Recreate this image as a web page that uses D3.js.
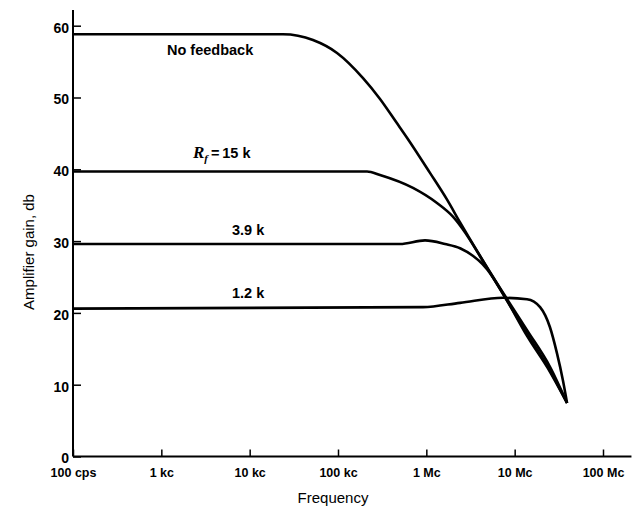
<!DOCTYPE html>
<html>
<head>
<meta charset="utf-8">
<script src="https://cdn.jsdelivr.net/npm/d3@7"></script>
<style>
body { margin: 0; background: #fff; }
svg { display: block; }
text { font-family: "Liberation Sans", Arial, sans-serif; fill: #000; }
</style>
</head>
<body>
<svg id="chart" width="634" height="511"></svg>
<script>
// gain curves (freq in cps, gain in db)
var noFeedback = [
    [1e2, 58.8], [2.38e4, 58.8], [5.21e4, 58.0], [9.75e4, 56.2], [1.92e5, 52.7],
    [2.99e5, 49.8], [4.66e5, 46.4], [6.04e5, 44.4], [1.10e6, 39.5], [1.71e6, 35.8],
    [2.41e6, 32.6], [5.69e6, 25.0], [1.38e7, 17.6], [2.51e7, 12.5], [3.92e7, 7.45]
];
var rf15k = [
    [1e2, 39.7], [2.13e5, 39.7], [2.99e5, 39.2], [7.06e5, 37.4], [1.32e6, 35.3],
    [2.00e6, 33.4], [2.54e6, 31.8], [4.86e6, 26.3], [1.38e7, 17.1], [2.51e7, 12.0],
    [3.92e7, 7.45]
];
var rf39k = [
    [1e2, 29.6], [5.04e5, 29.6], [9.66e5, 30.1], [1.63e6, 29.6], [2.41e6, 29.0],
    [4.86e6, 26.1], [7.78e6, 22.2], [1.38e7, 16.8], [2.51e7, 11.8], [3.92e7, 7.45]
];
var rf12k = [
    [1e2, 20.6], [9.17e5, 20.8], [2.41e6, 21.4], [7.38e6, 22.1], [1.38e7, 21.9],
    [1.94e7, 20.8], [2.51e7, 18.0], [3.01e7, 14.4], [3.52e7, 10.6], [3.92e7, 7.45]
];

var xTicks = [1e2, 1e3, 1e4, 1e5, 1e6, 1e7, 1e8];
var xTickLabels = ["100 cps", "1 kc", "10 kc", "100 kc", "1 Mc", "10 Mc", "100 Mc"];
var yTicks = [0, 10, 20, 30, 40, 50, 60];

var svg = d3.select("#chart");

var x = d3.scaleLog().domain([1e2, 1e8]).range([73, 603]);
var y = d3.scaleLinear().domain([0, 60]).range([456.5, 25.7]);

// y axis
var yAxis = d3.axisLeft(y)
    .tickValues(yTicks)
    .tickSize(-8)
    .tickPadding(4);
var gy = svg.append("g").attr("transform", "translate(73,0)").call(yAxis);
gy.select(".domain").remove();
gy.selectAll("line").attr("stroke", "#000").attr("stroke-width", 1.5);
gy.selectAll("text")
    .attr("font-size", 14)
    .attr("font-weight", "bold")
    .attr("dy", "0.45em");
svg.append("line")
    .attr("x1", 73).attr("x2", 73)
    .attr("y1", y(62.2)).attr("y2", y(0))
    .attr("stroke", "#000").attr("stroke-width", 2);

// x axis
var xAxis = d3.axisBottom(x)
    .tickValues(xTicks)
    .tickFormat(function(d, i){ return xTickLabels[i]; })
    .tickSize(-7)
    .tickPadding(12);
var gx = svg.append("g").attr("transform", "translate(0," + y(0) + ")").call(xAxis);
gx.select(".domain").remove();
gx.selectAll("line").attr("stroke", "#000").attr("stroke-width", 1.5);
gx.selectAll("text")
    .attr("font-size", 12.5)
    .attr("font-weight", "bold");
svg.append("line")
    .attr("x1", 73).attr("x2", x(2.1e8))
    .attr("y1", y(0)).attr("y2", y(0))
    .attr("stroke", "#000").attr("stroke-width", 2);

// axis titles
svg.append("text")
    .attr("x", 333).attr("y", 503)
    .attr("text-anchor", "middle")
    .attr("font-size", 15)
    .text("Frequency");
svg.append("text")
    .attr("transform", "translate(34,252) rotate(-90)")
    .attr("text-anchor", "middle")
    .attr("font-size", 15)
    .text("Amplifier gain, db");

// curves
var line = d3.line()
    .x(function(d){ return x(d[0]); })
    .y(function(d){ return y(d[1]); })
    .curve(d3.curveMonotoneX);

[noFeedback, rf15k, rf39k, rf12k].forEach(function(s){
    svg.append("path")
        .datum(s)
        .attr("d", line)
        .attr("fill", "none")
        .attr("stroke", "#000")
        .attr("stroke-width", 2.6)
        .attr("stroke-linejoin", "round");
});

// curve labels
svg.append("text")
    .attr("x", 167).attr("y", 55)
    .attr("font-size", 14.5).attr("font-weight", "bold")
    .text("No feedback");

var rl = svg.append("text")
    .attr("x", 193).attr("y", 158)
    .attr("font-size", 14.5).attr("font-weight", "bold");
rl.append("tspan")
    .attr("font-family", "'Liberation Serif', serif")
    .attr("font-style", "italic")
    .attr("font-size", 17)
    .text("R");
rl.append("tspan")
    .attr("font-family", "'Liberation Serif', serif")
    .attr("font-style", "italic")
    .attr("font-size", 11)
    .attr("dy", 4)
    .text("f");
rl.append("tspan")
    .attr("dy", -4)
    .text("\u2009=\u200915 k");

svg.append("text")
    .attr("x", 232).attr("y", 235)
    .attr("font-size", 14.5).attr("font-weight", "bold")
    .text("3.9 k");
svg.append("text")
    .attr("x", 232).attr("y", 298)
    .attr("font-size", 14.5).attr("font-weight", "bold")
    .text("1.2 k");
</script>
</body>
</html>
